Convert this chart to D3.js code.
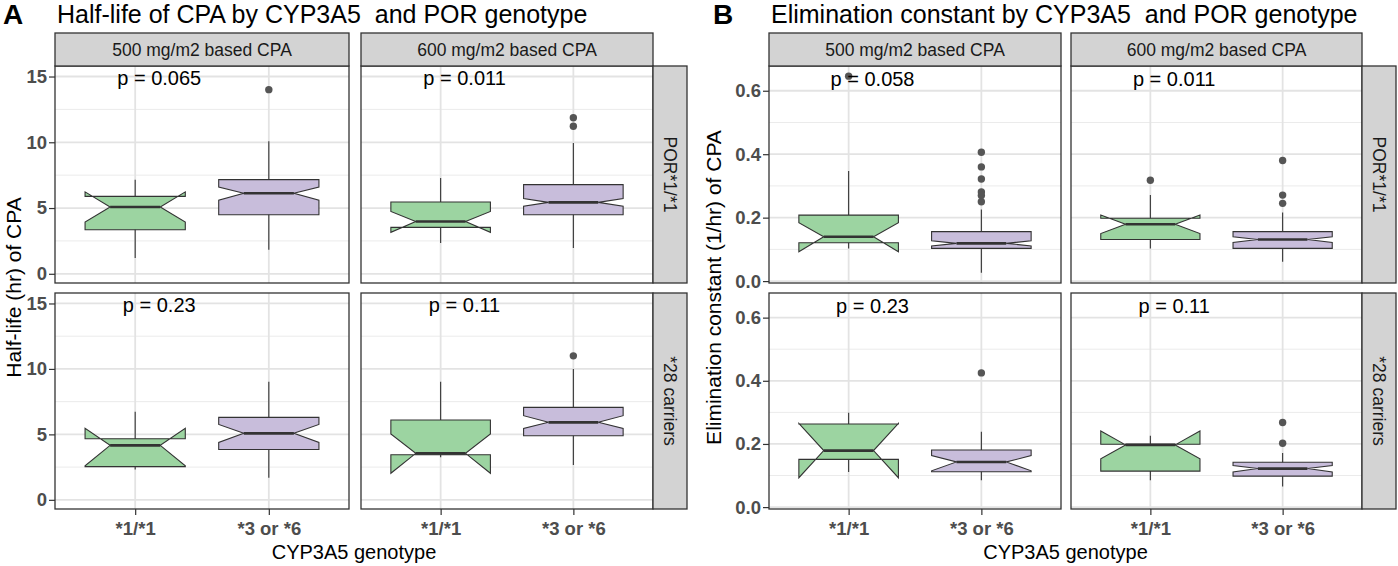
<!DOCTYPE html>
<html>
<head>
<meta charset="utf-8">
<script src="https://cdn.jsdelivr.net/npm/d3@7"></script>
<style>
  body { margin: 0; background: #fff; }
  svg text { font-family: "Liberation Sans", Arial, sans-serif; }
</style>
</head>
<body>
<div id="chart"></div>
<script>
// facets and categories
var doses = ['500 mg/m2 based CPA', '600 mg/m2 based CPA'];
var porGroups = ['POR*1/*1', '*28 carriers'];
var genotypes = ['*1/*1', '*3 or *6'];

// box order: [POR*1/*1 500 *1/*1, *3or*6, POR*1/*1 600 *1/*1, *3or*6, *28 500 ..., *28 600 ...]
var halfLifeLow     = [1.20, 1.83, 2.34, 1.96, 2.31, 1.68, 3.26, 2.67];
var halfLifeQ1      = [3.35, 4.49, 3.53, 4.49, 2.54, 3.84, 3.44, 4.90];
var halfLifeMedian  = [5.08, 6.12, 3.98, 5.43, 4.16, 5.08, 3.55, 5.92];
var halfLifeQ3      = [5.89, 7.16, 5.46, 6.78, 4.67, 6.30, 6.10, 7.06];
var halfLifeHigh    = [7.16, 10.08, 7.29, 9.95, 6.73, 9.02, 9.02, 9.99];
var halfLifeNotchLo = [3.93, 5.60, 3.15, 5.13, 2.60, 4.39, 2.03, 5.46];
var halfLifeNotchHi = [6.23, 6.60, 4.74, 5.73, 5.46, 5.76, 5.04, 6.43];
var halfLifeOutliers = [[], [14.0], [], [11.86, 11.22], [], [], [], [11.0]];
var halfLifeP = ['p = 0.065', 'p = 0.011', 'p = 0.23', 'p = 0.11'];
var halfLifeTicks = [0, 5, 10, 15];
var halfLifeMinor = [2.5, 7.5, 12.5];

var elimLow     = [0.103, 0.026, 0.103, 0.061, 0.111, 0.085, 0.085, 0.065];
var elimQ1      = [0.121, 0.103, 0.131, 0.103, 0.151, 0.112, 0.114, 0.098];
var elimMedian  = [0.140, 0.119, 0.179, 0.131, 0.179, 0.143, 0.197, 0.122];
var elimQ3      = [0.208, 0.156, 0.198, 0.156, 0.263, 0.181, 0.199, 0.142];
var elimHigh    = [0.347, 0.226, 0.271, 0.216, 0.299, 0.239, 0.226, 0.171];
var elimNotchLo = [0.0925, 0.111, 0.150, 0.122, 0.093, 0.115, 0.153, 0.111];
var elimNotchHi = [0.184, 0.127, 0.208, 0.140, 0.265, 0.163, 0.241, 0.132];
var elimOutliers = [[0.646], [0.406, 0.360, 0.322, 0.281, 0.270, 0.250], [0.318],
                    [0.380, 0.271, 0.245], [], [0.425], [], [0.268, 0.202]];
var elimP = ['p = 0.058', 'p = 0.011', 'p = 0.23', 'p = 0.11'];
var elimTicks = [0, 0.2, 0.4, 0.6];
var elimMinor = [0.1, 0.3, 0.5];

var fillColors = ['#9cd4a1', '#c8bddb'];

var svg = d3.select('#chart').append('svg')
            .attr('width', 1398)
            .attr('height', 566);

function drawPanel(p) {
    var g = svg.append('g');

    // letter and title
    g.append('text').attr('x', p.letterX).attr('y', 24)
      .style('font-size', '28px').style('font-weight', 'bold').text(p.letter);
    g.append('text').attr('x', p.cols[0][0] + 2).attr('y', 23)
      .style('font-size', '25px').style('white-space', 'pre').text(p.title);

    for (var r = 0; r < 2; r++) {
        var y = d3.scaleLinear().domain(p.domain).range([p.rows[r][1], p.rows[r][0]]);
        for (var c = 0; c < 2; c++) {
            var x = d3.scalePoint().domain(genotypes).range(p.cols[c]).padding(0.6);
            var bw = x.step() * 0.75;
            var x0 = p.cols[c][0], x1 = p.cols[c][1], y0 = p.rows[r][0], y1 = p.rows[r][1];

            // grid
            g.selectAll(null).data(p.minor).enter().append('line')
              .attr('x1', x0).attr('x2', x1)
              .attr('y1', function (d) { return y(d); }).attr('y2', function (d) { return y(d); })
              .style('stroke', '#ebebeb').style('stroke-width', 1);
            g.selectAll(null).data(p.ticks).enter().append('line')
              .attr('x1', x0).attr('x2', x1)
              .attr('y1', function (d) { return y(d); }).attr('y2', function (d) { return y(d); })
              .style('stroke', '#e3e3e3').style('stroke-width', 1.8);
            g.selectAll(null).data(genotypes).enter().append('line')
              .attr('x1', function (d) { return x(d); }).attr('x2', function (d) { return x(d); })
              .attr('y1', y0).attr('y2', y1)
              .style('stroke', '#e3e3e3').style('stroke-width', 1.8);

            // boxes
            var boxes = genotypes.map(function (gt, k) {
                var i = r * 4 + c * 2 + k;
                return {
                    gt: gt, k: k,
                    low: p.low[i], q1: p.q1[i], med: p.median[i], q3: p.q3[i], high: p.high[i],
                    nlo: p.notchLo[i], nhi: p.notchHi[i], out: p.outliers[i]
                };
            });

            boxes.forEach(function (b) {
                var cx = x(b.gt), xl = cx - bw / 2, xr = cx + bw / 2, ind = bw * 0.25;
                g.append('line').attr('x1', cx).attr('x2', cx)
                  .attr('y1', y(b.high)).attr('y2', y(b.low))
                  .style('stroke', '#333').style('stroke-width', 1.1);
                var pts = [
                    [xl, b.q3], [xl, b.nhi], [xl + ind, b.med], [xl, b.nlo], [xl, b.q1],
                    [xr, b.q1], [xr, b.nlo], [xr - ind, b.med], [xr, b.nhi], [xr, b.q3], [xl, b.q3]
                ];
                g.append('path')
                  .attr('d', d3.line().x(function (d) { return d[0]; }).y(function (d) { return y(d[1]); })(pts) + 'Z')
                  .style('fill', fillColors[b.k]).style('stroke', '#333').style('stroke-width', 1.1)
                  .style('stroke-linejoin', 'miter');
                g.append('line').attr('x1', xl + ind).attr('x2', xr - ind)
                  .attr('y1', y(b.med)).attr('y2', y(b.med))
                  .style('stroke', '#333').style('stroke-width', 2.6);
                g.selectAll(null).data(b.out).enter().append('circle')
                  .attr('cx', cx).attr('cy', function (d) { return y(d); }).attr('r', 3.7)
                  .style('fill', '#555');
            });

            // p value
            g.append('text')
              .attr('x', x(genotypes[0]) + x.step() * 0.18)
              .attr('y', y(p.pY)).attr('dy', '0.35em')
              .attr('text-anchor', 'middle')
              .style('font-size', '20px').style('fill', '#000')
              .text(p.pLabels[r * 2 + c]);

            // border
            g.append('rect').attr('x', x0).attr('y', y0)
              .attr('width', x1 - x0).attr('height', y1 - y0)
              .style('fill', 'none').style('stroke', '#333').style('stroke-width', 1.3);

            // y axis on left column
            if (c === 0) {
                var ya = g.append('g').attr('transform', 'translate(' + x0 + ',0)')
                  .call(d3.axisLeft(y).tickValues(p.ticks).tickFormat(d3.format(p.fmt))
                          .tickSize(6).tickPadding(2));
                ya.select('.domain').remove();
                ya.selectAll('.tick line').style('stroke', '#333').style('stroke-width', 1.2);
                ya.selectAll('.tick text').style('font-size', '18.5px').style('font-weight', 'bold')
                  .style('fill', '#4d4d4d').style('font-family', '"Liberation Sans", Arial, sans-serif');
            }
            // x axis on bottom row
            if (r === 1) {
                var xa = g.append('g').attr('transform', 'translate(0,' + y1 + ')')
                  .call(d3.axisBottom(x).tickSize(6).tickPadding(7));
                xa.select('.domain').remove();
                xa.selectAll('.tick line').style('stroke', '#333').style('stroke-width', 1.2);
                xa.selectAll('.tick text').style('font-size', '18.5px').style('font-weight', 'bold')
                  .style('fill', '#4d4d4d').style('font-family', '"Liberation Sans", Arial, sans-serif');
            }

            // top strips
            if (r === 0) {
                g.append('rect').attr('x', x0).attr('y', p.stripTop[0])
                  .attr('width', x1 - x0).attr('height', p.stripTop[1] - p.stripTop[0])
                  .style('fill', '#d3d3d3').style('stroke', '#333').style('stroke-width', 1.3);
                g.append('text').attr('x', (x0 + x1) / 2)
                  .attr('y', (p.stripTop[0] + p.stripTop[1]) / 2).attr('dy', '0.35em')
                  .attr('text-anchor', 'middle').style('font-size', '17.5px').style('fill', '#1a1a1a')
                  .text(doses[c]);
            }
        }
        // right strips
        var sx = p.stripRight;
        g.append('rect').attr('x', sx[0]).attr('y', p.rows[r][0])
          .attr('width', sx[1] - sx[0]).attr('height', p.rows[r][1] - p.rows[r][0])
          .style('fill', '#d3d3d3').style('stroke', '#333').style('stroke-width', 1.3);
        var cyS = (p.rows[r][0] + p.rows[r][1]) / 2;
        g.append('text')
          .attr('transform', 'translate(' + ((sx[0] + sx[1]) / 2) + ',' + cyS + ') rotate(90)')
          .attr('dy', '0.35em').attr('text-anchor', 'middle')
          .style('font-size', '17.5px').style('fill', '#1a1a1a')
          .text(porGroups[r]);
    }

    // axis titles
    var midX = (p.cols[0][0] + p.cols[1][1]) / 2;
    g.append('text').attr('x', midX).attr('y', 559)
      .attr('text-anchor', 'middle').style('font-size', '20px').text('CYP3A5 genotype');
    var midY = (p.rows[0][0] + p.rows[1][1]) / 2;
    g.append('text')
      .attr('transform', 'translate(' + p.yTitleX + ',' + midY + ') rotate(-90)')
      .attr('text-anchor', 'middle').style('font-size', '21px').text(p.yTitle);
}

drawPanel({
    letter: 'A', letterX: 3,
    title: 'Half-life of CPA by CYP3A5  and POR genotype',
    yTitle: 'Half-life (hr) of CPA', yTitleX: 21,
    cols: [[55, 349], [361, 653]], rows: [[66, 283], [293, 509]],
    stripTop: [33, 66], stripRight: [653, 687],
    domain: [-0.7, 15.8], ticks: halfLifeTicks, minor: halfLifeMinor, fmt: 'd',
    low: halfLifeLow, q1: halfLifeQ1, median: halfLifeMedian, q3: halfLifeQ3, high: halfLifeHigh,
    notchLo: halfLifeNotchLo, notchHi: halfLifeNotchHi, outliers: halfLifeOutliers,
    pLabels: halfLifeP, pY: 14.9
});

drawPanel({
    letter: 'B', letterX: 713,
    title: 'Elimination constant by CYP3A5  and POR genotype',
    yTitle: 'Elimination constant (1/hr) of CPA', yTitleX: 721,
    cols: [[769, 1061], [1071, 1362]], rows: [[66, 283], [293, 509]],
    stripTop: [33, 66], stripRight: [1362, 1396],
    domain: [-0.006, 0.678], ticks: elimTicks, minor: elimMinor, fmt: '.1f',
    low: elimLow, q1: elimQ1, median: elimMedian, q3: elimQ3, high: elimHigh,
    notchLo: elimNotchLo, notchHi: elimNotchHi, outliers: elimOutliers,
    pLabels: elimP, pY: 0.636
});
</script>
</body>
</html>
